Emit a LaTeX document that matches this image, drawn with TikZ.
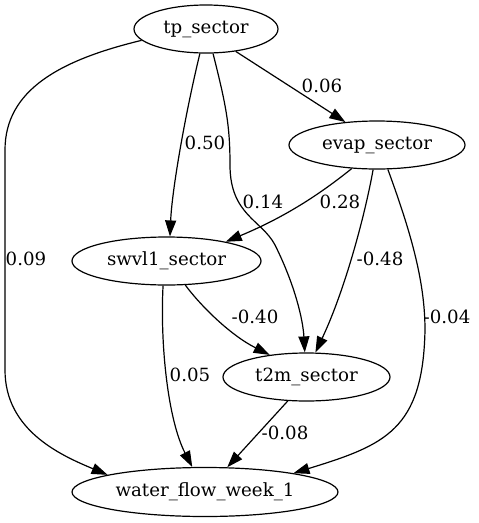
\documentclass[tikz,border=0pt]{standalone}
\usepackage{fontspec}
\setmainfont{DejaVu Serif}
\usepackage{tikz}
\usetikzlibrary{positioning, arrows.meta, shapes.geometric}

\begin{document}
\begin{tikzpicture}[x=1pt, y=-1pt,
  sector/.style={ellipse, draw, line width=1.2pt, inner sep=0pt, minimum height=48pt, font=\fontsize{18.2}{22}\selectfont},
  lbl/.style={inner sep=0pt, font=\fontsize{18.2}{22}\selectfont},
  edge/.style={draw, line width=1.2pt, -{Triangle[length=16pt,width=11pt]}}]
\useasboundingbox (0,0) rectangle (479,523);

% Nodes
\node[sector, minimum width=144pt] (tp) at (206,29) {tp\_sector};
\node[sector, minimum width=176pt] (evap) at (377,145) {evap\_sector};
\node[sector, minimum width=189pt] (swvl1) at (166.5,261) {swvl1\_sector};
\node[sector, minimum width=167pt] (t2m) at (306.5,377) {t2m\_sector};
\node[sector, minimum width=266pt, minimum height=49pt] (water) at (205,492) {water\_flow\_week\_1};

% Edge labels
\node[lbl] (w06) at (322,86) {0.06};
\node[lbl] (w50) at (205,143) {0.50};
\node[lbl] (w14) at (263,202) {0.14};
\node[lbl] (w28) at (340,202) {0.28};
\node[lbl] (w09) at (26,259) {0.09};
\node[lbl] (w48) at (380,259) {-0.48};
\node[lbl] (w40) at (255,317) {-0.40};
\node[lbl] (w04) at (447,317) {-0.04};
\node[lbl] (w05) at (190,375) {0.05};
\node[lbl] (w08) at (285,433) {-0.08};

% Edges from tp_sector
\draw[edge] (tp.190) .. controls (60,60) and (5,90) .. (5,150) -- (5,370) .. controls (5,430) and (60,455) .. (water.170);
\draw[edge] (tp.256) .. controls (185,115) and (172,190) .. (swvl1.82);
\draw[edge] (tp.286) .. controls (226,105) and (230,125) .. (230,165) .. controls (230,215) and (262,220) .. (275,245) .. controls (295,285) and (303,320) .. (t2m.94);
\draw[edge] (tp.323) -- (evap.144);

% Edges from evap_sector
\draw[edge] (evap.223) .. controls (325,190) and (290,215) .. (swvl1.18);
\draw[edge] (evap.261) .. controls (365,215) and (345,290) .. (t2m.70);
\draw[edge] (evap.294) .. controls (410,230) and (425,280) .. (425,330) .. controls (423,430) and (385,445) .. (water.12);

% Edges from swvl1_sector and t2m_sector
\draw[edge] (swvl1.308) .. controls (200,305) and (230,335) .. (t2m.149);
\draw[edge] (swvl1.262) .. controls (160,345) and (168,420) .. (water.117);
\draw[edge] (t2m.232) -- (water.48);
\end{tikzpicture}
\end{document}
